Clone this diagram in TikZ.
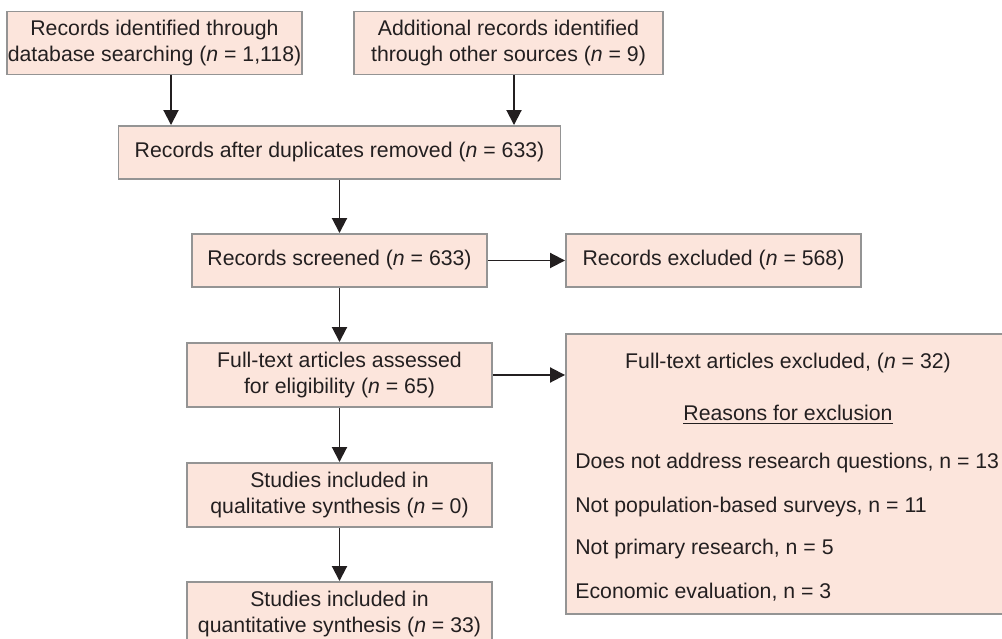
\documentclass[tikz,border=0pt]{standalone}
\usepackage{fontspec}
\setmainfont{Liberation Sans}
\usepackage{tikz}
\usetikzlibrary{arrows.meta, calc, positioning}
\definecolor{boxfill}{HTML}{FCE5DC}
\definecolor{boxrim}{HTML}{949494}
\definecolor{inktext}{HTML}{231F20}
\tikzset{
  flowbox/.style   = {rectangle, fill=boxfill, draw=boxrim, line width=1.1pt,
                      text=inktext, align=center, inner xsep=0.5pt, inner ysep=2pt,
                      font=\fontsize{12.1}{14.8}\selectfont},
  flowarrow/.style = {draw=inktext, line width=1.1pt,
                      -{Triangle[length=3mm, width=3mm]}},
  reasonline/.style = {text=inktext, inner sep=0pt,
                       font=\fontsize{12.1}{14.8}\selectfont},
}
\begin{document}
\begin{tikzpicture}[x=1cm, y=1cm]
    \clip (0,0) rectangle (20.04,12.76);
    % identification
    \node[flowbox, minimum width=5.80cm, minimum height=1.26cm] (ident) at (3.09,11.90)
      {Records identified through\\database searching (\textit{n} = 1,118)};
    \node[flowbox, minimum width=6.18cm, minimum height=1.26cm] (other) at (10.17,11.90)
      {Additional records identified\\through other sources (\textit{n} = 9)};
    \node[flowbox, minimum width=8.84cm, minimum height=1.06cm] (dedup) at (6.79,9.71)
      {Records after duplicates removed (\textit{n} = 633)};
    % screening
    \node[flowbox, minimum width=5.90cm, minimum height=1.06cm] (screen) at (6.79,7.55)
      {Records screened (\textit{n} = 633)};
    \node[flowbox, minimum width=5.90cm, minimum height=1.06cm] (recexcl) at (14.27,7.55)
      {Records excluded (\textit{n} = 568)};
    % eligibility
    \node[flowbox, minimum width=6.10cm, minimum height=1.28cm] (full) at (6.79,5.26)
      {Full-text articles assessed\\for eligibility (\textit{n} = 65)};
    \node[flowbox, minimum width=8.88cm, minimum height=5.60cm] (fullexcl) at (15.76,3.28) {};
    \node[reasonline] (exhead) at ([yshift=-0.60cm]fullexcl.north)
      {Full-text articles excluded, (\textit{n} = 32)};
    \node[reasonline] (exwhy) at ([yshift=-1.64cm]fullexcl.north)
      {\underline{Reasons for exclusion}};
    \node[reasonline, anchor=west] (exq) at ([xshift=0.20cm, yshift=-2.60cm]fullexcl.north west)
      {Does not address research questions, n = 13};
    \node[reasonline, anchor=west] (exsurv) at ([xshift=0.20cm, yshift=-3.48cm]fullexcl.north west)
      {Not population-based surveys, n = 11};
    \node[reasonline, anchor=west] (exprim) at ([xshift=0.20cm, yshift=-4.32cm]fullexcl.north west)
      {Not primary research, n = 5};
    \node[reasonline, anchor=west] (execon) at ([xshift=0.20cm, yshift=-5.18cm]fullexcl.north west)
      {Economic evaluation, n = 3};
    % included
    \node[flowbox, minimum width=6.10cm, minimum height=1.28cm] (qual) at (6.79,2.86)
      {Studies included in\\qualitative synthesis (\textit{n} = 0)};
    \node[flowbox, minimum width=6.10cm, minimum height=1.28cm] (quant) at (6.79,0.48)
      {Studies included in\\quantitative synthesis (\textit{n} = 33)};
    % connectors
    \draw[flowarrow] ([xshift=0.33cm]ident.south) -- ([xshift=0.33cm]ident.south |- dedup.north);
    \draw[flowarrow] ([xshift=0.11cm]other.south) -- ([xshift=0.11cm]other.south |- dedup.north);
    \draw[flowarrow] (dedup) -- (screen);
    \draw[flowarrow] (screen) -- (recexcl);
    \draw[flowarrow] (screen) -- (full);
    \draw[flowarrow] (full.east) -- (full.east -| fullexcl.west);
    \draw[flowarrow] (full) -- (qual);
    \draw[flowarrow] (qual) -- (quant);
  \end{tikzpicture}
\end{document}
